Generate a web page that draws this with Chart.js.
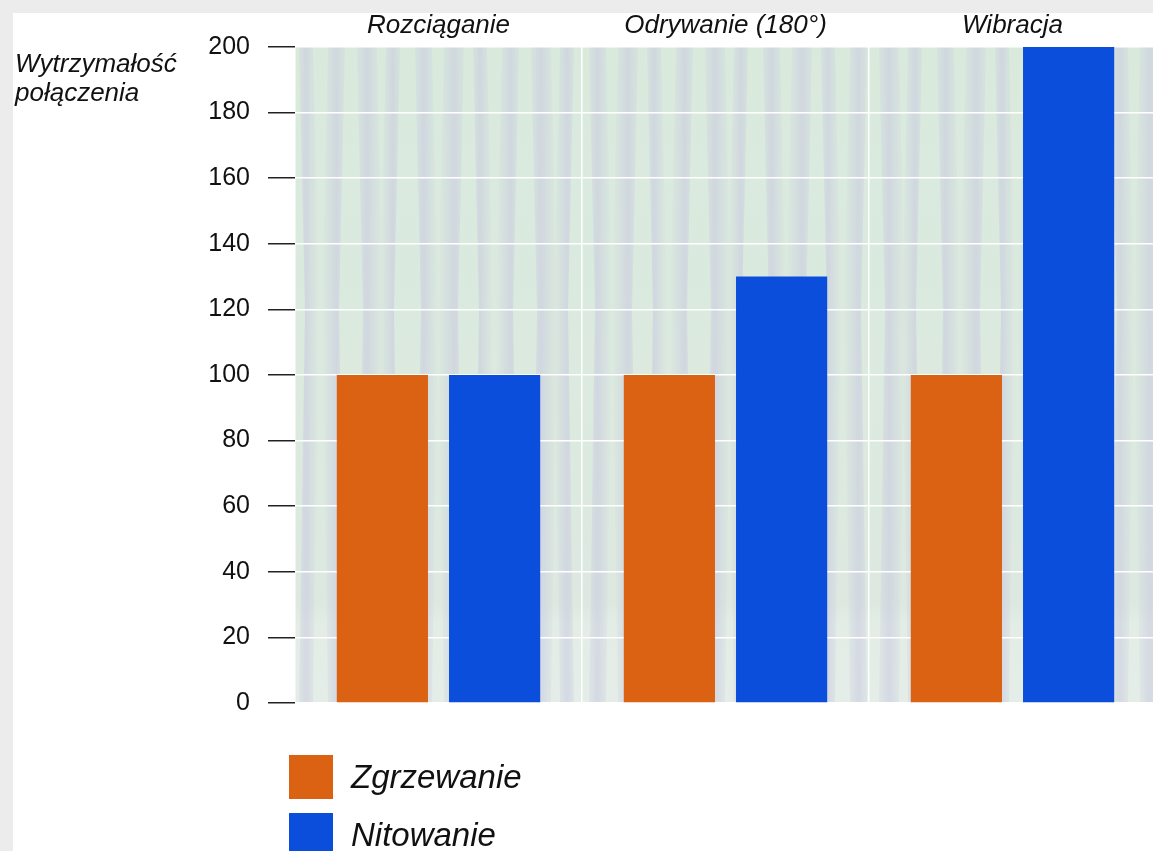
<!DOCTYPE html>
<html lang="pl">
<head>
<meta charset="utf-8">
<title>Wytrzymałość połączenia</title>
<script src="https://cdn.jsdelivr.net/npm/chart.js@4.4.1/dist/chart.umd.min.js"></script>
<style>
  html, body { margin: 0; padding: 0; background: #ececec; overflow: hidden; }
  canvas { display: block; }
</style>
</head>
<body>
<canvas id="chart" width="1156" height="851"></canvas>
<script>
// Test categories (shown along the top of the plot)
const categories = ['Rozciąganie', 'Odrywanie (180°)', 'Wibracja'];

// Relative joint strength for each joining method
const seriesNames = ['Zgrzewanie', 'Nitowanie'];
const zgrzewanie = [100, 100, 100];
const nitowanie = [100, 130, 200];

// Value axis
const yMin = 0;
const yMax = 200;
const yStep = 20;

const yTitleLines = ['Wytrzymałość', 'połączenia'];

const seriesColors = ['#da6212', '#0a4edb'];
const FONT = "'Liberation Sans', Arial, Helvetica, sans-serif";

// Page frame, textured plot background, axis title and stacked legend
const decorPlugin = {
  id: 'decor',
  beforeDraw(chart) {
    const { ctx, chartArea: a, width, height } = chart;
    ctx.save();
    ctx.fillStyle = '#ececec';
    ctx.fillRect(0, 0, width, height);
    ctx.fillStyle = '#ffffff';
    ctx.fillRect(13, 13, width - 13, height - 13);

    // pale green paper with soft lavender vertical bands
    const h = a.bottom - a.top;
    const base = ctx.createLinearGradient(0, a.top, 0, a.bottom);
    base.addColorStop(0, '#d9eadd');
    base.addColorStop(0.85, '#dde9e0');
    base.addColorStop(0.88, '#e3ede6');
    base.addColorStop(1, '#e4ede7');
    ctx.fillStyle = base;
    ctx.fillRect(a.left, a.top, a.right - a.left, h);
    ctx.beginPath();
    ctx.rect(a.left, a.top, a.right - a.left, h);
    ctx.clip();
    const period = 29;
    for (let x = a.left + 4, k = 0; x < a.right; x += period, k++) {
      const w = 14 + (k % 3) * 3;
      const sway = (k % 2 === 0) ? 6 : -6;
      const g = ctx.createLinearGradient(x - 6, 0, x + w + 6, 0);
      g.addColorStop(0, 'rgba(200,200,222,0)');
      g.addColorStop(0.5, 'rgba(200,200,224,0.55)');
      g.addColorStop(1, 'rgba(200,200,222,0)');
      ctx.fillStyle = g;
      ctx.beginPath();
      ctx.moveTo(x, a.top);
      ctx.lineTo(x + w, a.top);
      ctx.lineTo(x + w + sway, a.top + h * 0.4);
      ctx.lineTo(x + w, a.bottom);
      ctx.lineTo(x, a.bottom);
      ctx.lineTo(x + sway, a.top + h * 0.4);
      ctx.closePath();
      ctx.fill();
    }
    ctx.restore();
  },
  afterDraw(chart) {
    const { ctx } = chart;
    ctx.save();
    ctx.fillStyle = '#111111';
    ctx.textAlign = 'left';
    ctx.textBaseline = 'alphabetic';
    ctx.font = 'italic 26px ' + FONT;
    yTitleLines.forEach((line, i) => ctx.fillText(line, 15, 72 + i * 29));

    ctx.font = 'italic 33px ' + FONT;
    chart.data.datasets.forEach((ds, i) => {
      const top = 755 + i * 58;
      ctx.fillStyle = ds.backgroundColor;
      ctx.fillRect(289, top, 44, 44);
      ctx.fillStyle = '#111111';
      ctx.fillText(ds.label, 351, top + 33);
    });
    ctx.restore();
  }
};

new Chart(document.getElementById('chart'), {
  type: 'bar',
  data: {
    labels: categories,
    datasets: [
      { label: seriesNames[0], data: zgrzewanie, backgroundColor: seriesColors[0] },
      { label: seriesNames[1], data: nitowanie, backgroundColor: seriesColors[1] }
    ]
  },
  options: {
    responsive: false,
    devicePixelRatio: 1,
    animation: false,
    layout: { padding: { top: 0, right: 0, bottom: 148, left: 0 } },
    datasets: {
      bar: { categoryPercentage: 0.782, barPercentage: 0.8125, borderWidth: 0 }
    },
    plugins: {
      legend: { display: false },
      tooltip: { enabled: false }
    },
    scales: {
      x: {
        position: 'top',
        offset: true,
        border: { display: false },
        grid: { color: '#ffffff', lineWidth: 1.5, drawTicks: false, offset: true },
        ticks: { padding: 6, color: '#111111', font: { family: FONT, size: 26, style: 'italic' } },
        afterFit(scale) { scale.height = 47; }
      },
      y: {
        min: yMin,
        max: yMax,
        border: { display: false },
        grid: { color: '#ffffff', lineWidth: 1.5, tickColor: '#222222', tickLength: 27, tickWidth: 1.5 },
        ticks: { stepSize: yStep, padding: 18, color: '#111111', font: { family: FONT, size: 25 } },
        afterFit(scale) { scale.width = 295; }
      }
    }
  },
  plugins: [decorPlugin]
});
</script>
</body>
</html>
